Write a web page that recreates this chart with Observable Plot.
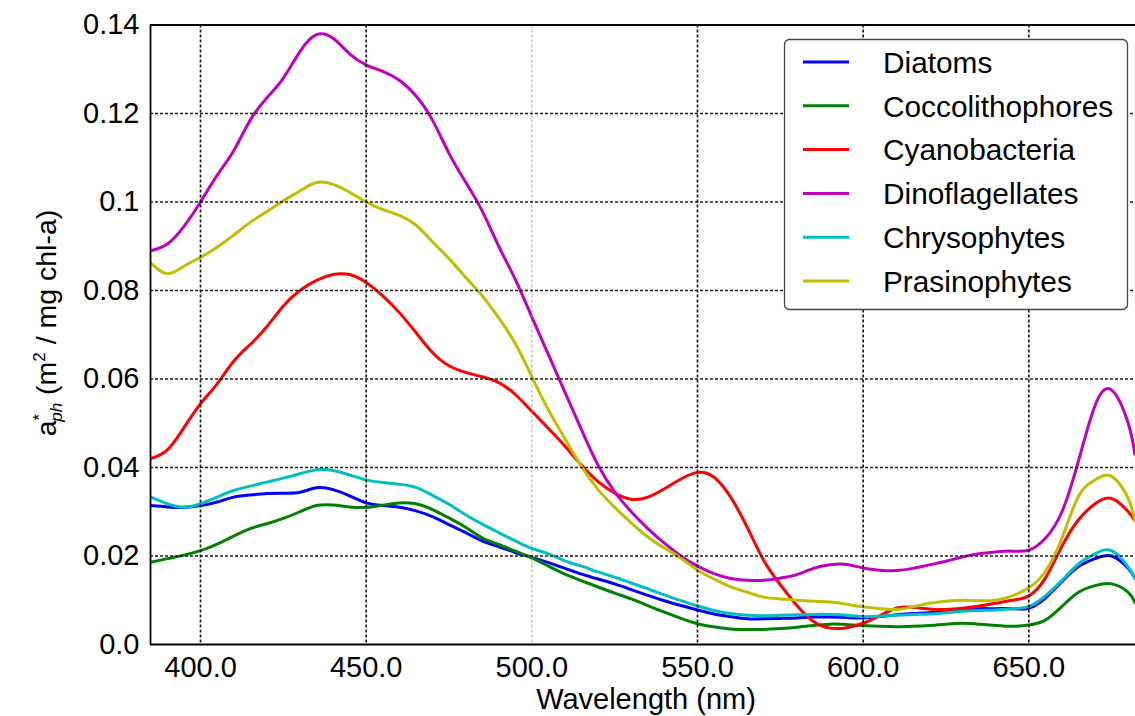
<!DOCTYPE html>
<html>
<head>
<meta charset="utf-8">
<script src="https://cdn.jsdelivr.net/npm/d3@7"></script>
<script src="https://cdn.jsdelivr.net/npm/@observablehq/plot@0.6"></script>
<style>
  html, body { margin: 0; padding: 0; background: #fff; }
  #chart svg { display: block; }
</style>
</head>
<body>
<div id="chart"></div>
<script>
// ---- Data ----
const wavelengths = [385,390,395,400,405,410,415,420,425,430,435,440,445,450,455,460,465,470,475,480,485,490,495,500,505,510,515,520,525,530,535,540,545,550,555,560,565,570,575,580,585,590,595,600,605,610,615,620,625,630,635,640,645,650,655,660,665,670,675,680,682];

const diatoms = [.0314,.0311,.0310,.0314,.0322,.0333,.0338,.0341,.0342,.0344,.0354,.0350,.0336,.0320,.0314,.0310,.0302,.0289,.0271,.0253,.0234,.0221,.0208,.0197,.0185,.0172,.0159,.0148,.0137,.0124,.0111,.0099,.0088,.0078,.0069,.0063,.0058,.0058,.0059,.0060,.0062,.0062,.0061,.0060,.0063,.0067,.0070,.0072,.0076,.0079,.0081,.0081,.0081,.0082,.0105,.0142,.0176,.0194,.0200,.0172,.0150];

const coccolithophores = [.0186,.0194,.0202,.0212,.0227,.0245,.0262,.0273,.0285,.0300,.0314,.0315,.0311,.0310,.0315,.0320,.0318,.0305,.0286,.0265,.0241,.0226,.0211,.0196,.0177,.0159,.0144,.0130,.0116,.0103,.0088,.0073,.0059,.0047,.0040,.0035,.0034,.0034,.0036,.0039,.0043,.0046,.0045,.0043,.0041,.0040,.0041,.0043,.0046,.0048,.0046,.0043,.0041,.0044,.0055,.0086,.0118,.0133,.0137,.0118,.0095];

const cyanobacteria = [.0420,.0440,.0490,.0544,.0589,.0640,.0678,.0718,.0765,.0800,.0823,.0836,.0836,.0818,.0788,.0750,.0705,.0660,.0630,.0615,.0605,.0592,.0565,.0527,.0488,.0448,.0405,.0368,.0342,.0328,.0333,.0352,.0374,.0389,.0378,.0333,.0265,.0190,.0135,.0088,.0052,.0037,.0038,.0048,.0065,.0082,.0084,.0080,.0079,.0082,.0087,.0093,.0100,.0110,.0150,.0222,.0282,.0318,.0330,.0300,.0280];

const dinoflagellates = [.0890,.0905,.0945,.1000,.1060,.1116,.1185,.1235,.1280,.1340,.1378,.1370,.1335,.1310,.1295,.1275,.1240,.1185,.1110,.1045,.0980,.0900,.0825,.0740,.0655,.0570,.0485,.0405,.0345,.0300,.0262,.0229,.0200,.0177,.0160,.0149,.0145,.0145,.0150,.0158,.0172,.0180,.0181,.0173,.0168,.0167,.0172,.0180,.0188,.0198,.0205,.0209,.0211,.0213,.0240,.0300,.0415,.0540,.0575,.0500,.0430];

const chrysophytes = [.0333,.0318,.0310,.0318,.0333,.0348,.0358,.0367,.0376,.0386,.0395,.0393,.0383,.0372,.0366,.0362,.0355,.0337,.0317,.0293,.0272,.0253,.0234,.0217,.0205,.0189,.0177,.0164,.0152,.0139,.0126,.0112,.0099,.0087,.0077,.0070,.0066,.0065,.0066,.0067,.0068,.0068,.0066,.0063,.0064,.0066,.0068,.0069,.0072,.0075,.0077,.0078,.0081,.0086,.0110,.0145,.0182,.0205,.0212,.0175,.0150];

const prasinophytes = [.0862,.0838,.0855,.0875,.0898,.0925,.0954,.0978,.1003,.1025,.1044,.1040,.1022,.1000,.0983,.0970,.0948,.0910,.0872,.0830,.0788,.0738,.0680,.0605,.0530,.0465,.0402,.0350,.0310,.0275,.0243,.0218,.0195,.0168,.0148,.0130,.0118,.0107,.0103,.0100,.0098,.0096,.0091,.0085,.0081,.0079,.0085,.0093,.0098,.0100,.0099,.0100,.0110,.0128,.0165,.0240,.0335,.0372,.0380,.0330,.0280];

const seriesNames = ["Diatoms","Coccolithophores","Cyanobacteria","Dinoflagellates","Chrysophytes","Prasinophytes"];
const seriesColors = ["#0000ff","#008000","#ff0000","#bf00bf","#00bfbf","#bfbf00"];
const xTicks = [400,450,500,550,600,650];
const xTickLabels = ["400.0","450.0","500.0","550.0","600.0","650.0"];
const yTicks = [0,0.02,0.04,0.06,0.08,0.1,0.12,0.14];
const yTickLabels = ["0.0","0.02","0.04","0.06","0.08","0.1","0.12","0.14"];
const xLabel = "Wavelength (nm)";

// ---- Build table ----
const seriesValues = [diatoms, coccolithophores, cyanobacteria, dinoflagellates, chrysophytes, prasinophytes];
const rows = [];
seriesNames.forEach((name, i) => {
  wavelengths.forEach((wl, j) => rows.push({series: name, wl, v: seriesValues[i][j]}));
});

const FONT = "'Liberation Sans', Arial, Helvetica, sans-serif";
const FS = 29;
const xDomain = [384.9, 682.2];

const chart = Plot.plot({
  width: 1135,
  height: 716,
  marginLeft: 150,
  marginRight: 0,
  marginTop: 24.5,
  marginBottom: 72,
  style: {fontFamily: FONT, fontSize: FS + "px", color: "#000", background: "#fff"},
  x: {domain: xDomain},
  y: {domain: [0, 0.14]},
  color: {domain: seriesNames, range: seriesColors},
  marks: [
    Plot.line(rows, {x: "wl", y: "v", z: "series", stroke: "series", strokeWidth: 3, curve: "natural", clip: true}),
    Plot.gridX(xTicks.filter(d => d !== 500), {stroke: "#111", strokeOpacity: 0.95, strokeWidth: 1.7, strokeDasharray: "3,2"}),
    Plot.gridX([500], {stroke: "#999", strokeOpacity: 0.7, strokeWidth: 1.2, strokeDasharray: "3,2"}),
    Plot.gridY(yTicks.slice(1, -1), {stroke: "#111", strokeOpacity: 0.95, strokeWidth: 1.7, strokeDasharray: "3,2"}),
    Plot.axisX({ticks: xTicks, tickSize: 0, tickPadding: 12, fontSize: FS,
      tickFormat: d => xTickLabels[xTicks.indexOf(d)], label: null}),
    Plot.axisY({ticks: yTicks, tickSize: 0, tickPadding: 11, fontSize: FS,
      tickFormat: d => yTickLabels[yTicks.indexOf(d)], label: null}),
    Plot.ruleY([0], {stroke: "#000", strokeWidth: 1.8}),
    Plot.ruleY([0.14], {stroke: "#000", strokeWidth: 1.8}),
    Plot.ruleX([xDomain[0]], {stroke: "#000", strokeWidth: 1.8})
  ]
});

document.getElementById("chart").appendChild(chart);

// ---- Axis labels ----
const svg = d3.select(chart);
svg.append("text")
  .attr("x", 646).attr("y", 709)
  .attr("text-anchor", "middle")
  .attr("font-family", FONT).attr("font-size", FS).attr("fill", "#000")
  .text(xLabel);

const yl = svg.append("text")
  .attr("transform", "translate(56,323) rotate(-90)")
  .attr("text-anchor", "middle")
  .attr("font-family", FONT).attr("font-size", 28.5).attr("fill", "#000");
yl.append("tspan").text("a");
yl.append("tspan").attr("dy", -11).attr("font-size", 17).text("*");
yl.append("tspan").attr("dx", -8).attr("dy", 17).attr("font-size", 17).attr("font-style", "italic").text("ph");
yl.append("tspan").attr("dy", -6).text("\u00a0(m");
yl.append("tspan").attr("dy", -11).attr("font-size", 17).text("2");
yl.append("tspan").attr("dy", 11).text(" / mg chl-a)");

// ---- Legend (inside plot, upper right) ----
const lg = svg.append("g").attr("text-anchor", "start");
lg.append("rect")
  .attr("x", 784.5).attr("y", 39.5).attr("width", 343).attr("height", 270)
  .attr("rx", 5).attr("fill", "#fff").attr("stroke", "#444").attr("stroke-width", 1.3);
seriesNames.forEach((name, i) => {
  const cy = 62 + i * 43.8;
  lg.append("line")
    .attr("x1", 803).attr("x2", 849).attr("y1", cy).attr("y2", cy)
    .attr("stroke", seriesColors[i]).attr("stroke-width", 3);
  lg.append("text")
    .attr("x", 883).attr("y", cy).attr("dy", "0.36em")
    .attr("text-anchor", "start")
    .attr("font-family", FONT).attr("font-size", 29.8).attr("fill", "#000")
    .text(name);
});
</script>
</body>
</html>
